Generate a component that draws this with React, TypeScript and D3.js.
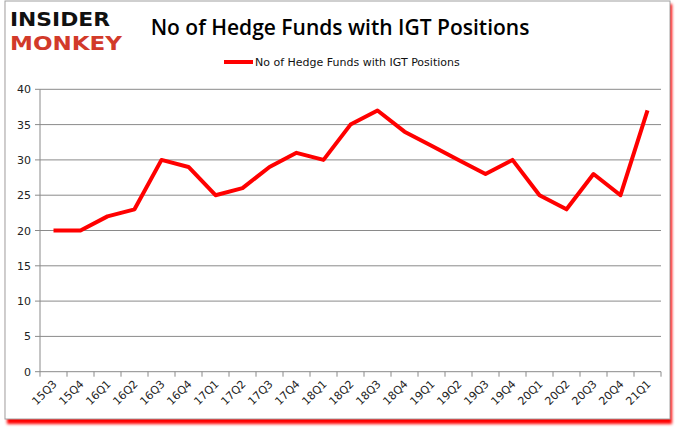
import React from "react";
import * as d3 from "d3";

const categories = ["15Q3","15Q4","16Q1","16Q2","16Q3","16Q4","17Q1","17Q2","17Q3","17Q4","18Q1","18Q2","18Q3","18Q4","19Q1","19Q2","19Q3","19Q4","20Q1","20Q2","20Q3","20Q4","21Q1"];
const values = [20,20,22,23,30,29,25,26,29,31,30,35,37,34,32,30,28,30,25,23,28,25,37];
const yTicks = [0,5,10,15,20,25,30,35,40];
const seriesName = "No of Hedge Funds with IGT Positions";
const title = "No of Hedge Funds with IGT Positions";

export default function App() {
  const W = 678, H = 431;
  const left = 40, right = 661, top = 89.3, bottom = 371.7;
  const x = d3.scaleBand<string>().domain(categories).range([left, right]);
  const y = d3.scaleLinear().domain([0, 40]).range([bottom, top]);
  const line = d3.line<number>()
    .x((_, i) => (x(categories[i]) as number) + x.bandwidth() / 2)
    .y((d) => y(d));
  const tickFont = "DejaVu Sans, Verdana, sans-serif";
  return (
    <svg width={W} height={H} style={{ position: "absolute", left: 0, top: 0, background: "#fff" }}>
      <defs>
        <filter id="sh" x="-5%" y="-5%" width="110%" height="110%">
          <feGaussianBlur stdDeviation="1.5" />
        </filter>
      </defs>
      <rect x={7} y={4} width={665} height={420} fill="#f00" filter="url(#sh)" />
      <rect x={5} y={1} width={665} height={418} fill="#fff" stroke="#a0a0a0" strokeWidth={1} />
      {/* logo */}
      <text x={10} y={26} fontFamily="DejaVu Sans, sans-serif" fontWeight="900" fontSize={20} fill="#111" textLength={100} lengthAdjust="spacingAndGlyphs">INSIDER</text>
      <text x={10} y={50} fontFamily="DejaVu Sans, sans-serif" fontWeight="900" fontSize={20} fill="#d23a2a" textLength={112} lengthAdjust="spacingAndGlyphs">MONKEY</text>
      <text x={340} y={35} textAnchor="middle" fontFamily="Open Sans, Liberation Sans, sans-serif" fontWeight="600" fontSize={21} fill="#000">{title}</text>
      {/* legend */}
      <line x1={224} y1={62} x2={253} y2={62} stroke="#f00" strokeWidth={4} />
      <text x={255} y={66} fontFamily={tickFont} fontSize={11} fill="#111">{seriesName}</text>
      {/* grid */}
      {yTicks.map((t) => (
        <g key={t}>
          <line x1={left} x2={right} y1={y(t)} y2={y(t)} stroke="#8a8a8a" strokeWidth={1} />
          <line x1={left - 5} x2={left} y1={y(t)} y2={y(t)} stroke="#8a8a8a" />
          <text x={left - 9} y={y(t) + 4} textAnchor="end" fontFamily={tickFont} fontSize={11} fill="#222">{t}</text>
        </g>
      ))}
      <line x1={left} x2={left} y1={top} y2={bottom} stroke="#8a8a8a" />
      {categories.map((c) => (
        <line key={"t" + c} x1={(x(c) as number)} x2={(x(c) as number)} y1={bottom} y2={bottom + 5} stroke="#8a8a8a" />
      ))}
      <line x1={right} x2={right} y1={bottom} y2={bottom + 5} stroke="#8a8a8a" />
      {categories.map((c) => {
        const cx = (x(c) as number) + x.bandwidth() / 2 + 4;
        return (
          <text key={c} transform={`translate(${cx},${bottom + 13}) rotate(-45)`} textAnchor="end" fontFamily={tickFont} fontSize={11} fill="#222">{c}</text>
        );
      })}
      <path d={line(values) || ""} fill="none" stroke="#f00" strokeWidth={4} strokeLinejoin="round" />
    </svg>
  );
}
